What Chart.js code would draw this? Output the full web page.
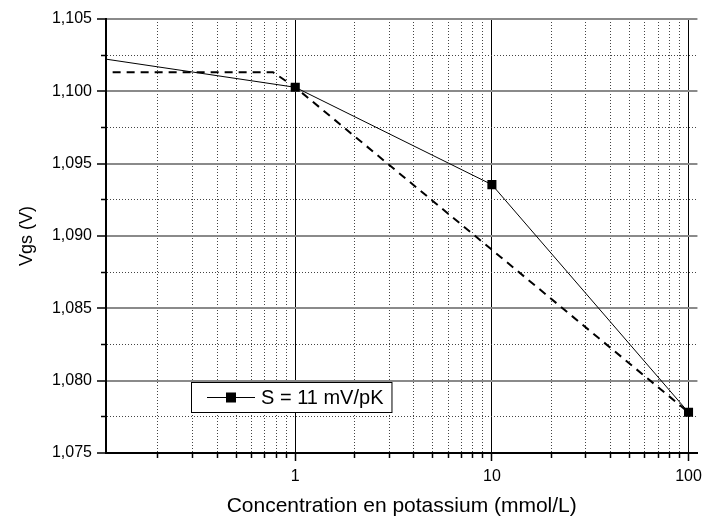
<!DOCTYPE html>
<html><head><meta charset="utf-8">
<script src="https://cdn.jsdelivr.net/npm/chart.js@4/dist/chart.umd.min.js"></script>
<style>html,body{margin:0;padding:0;background:#fff}</style>
</head><body>
<canvas id="c" width="708" height="520"></canvas>
<script>
// ---- data ----
const concentrations = [0.1, 1, 10, 100];            // mmol/L
const vgsMeasured    = [1.1023, 1.10028, 1.09355, 1.07781]; // V
const fitConcentrations = [0.1, 0.77, 1, 100];
const vgsFit            = [1.10132, 1.10132, 1.10028, 1.07781];
const seriesLabel = 'S = 11 mV/pK';
const xTitle = 'Concentration en potassium (mmol/L)';
const yTitle = 'Vgs (V)';
const xRange = [0.109, 111];
const yRange = [1.075, 1.105];
const xTickValues = [0.2,0.3,0.4,0.5,0.6,0.7,0.8,0.9,1,2,3,4,5,6,7,8,9,10,20,30,40,50,60,70,80,90,100];
const xMajorTicks = [1, 10, 100];
const xTickLabels = ['1', '10', '100'];
const yTickValues = [1.075,1.0775,1.080,1.0825,1.085,1.0875,1.090,1.0925,1.095,1.0975,1.100,1.1025,1.105];
const yMajorTicks = [1.075,1.080,1.085,1.090,1.095,1.100,1.105];
const yTickLabels = ['1,075','1,080','1,085','1,090','1,095','1,100','1,105'];

const FONT = "'Liberation Sans', Arial, sans-serif";
const near = (a, b) => Math.abs(a - b) < 1e-7 * Math.max(1, Math.abs(b));
const majorIdx = (arr, v) => arr.findIndex(m => near(m, v));
const isMajorX = v => majorIdx(xMajorTicks, v) >= 0;
const isMajorY = v => majorIdx(yMajorTicks, v) >= 0;

const boxLegend = {
  id: 'boxLegend',
  afterDatasetsDraw(chart) {
    const ctx = chart.ctx, ca = chart.chartArea;
    const ds = chart.data.datasets[0];
    const bx = ca.left + 85, by = ca.top + 363, bh = 30;
    ctx.save();
    ctx.font = '20px ' + FONT;
    const tw = ctx.measureText(ds.label).width;
    const bw = 70 + tw + 8;
    ctx.fillStyle = '#fff';
    ctx.fillRect(bx, by, bw, bh);
    ctx.strokeStyle = '#000';
    ctx.lineWidth = 1;
    ctx.strokeRect(Math.round(bx) + 0.5, Math.round(by) + 0.5, bw, bh);
    const cy = by + bh / 2;
    ctx.beginPath();
    ctx.moveTo(bx + 16, Math.round(cy) + 0.5);
    ctx.lineTo(bx + 64, Math.round(cy) + 0.5);
    ctx.stroke();
    ctx.fillStyle = '#000';
    ctx.fillRect(bx + 40 - 5, cy - 4.5, 10, 10);
    ctx.textBaseline = 'middle';
    ctx.textAlign = 'left';
    ctx.fillText(ds.label, bx + 70, cy + 1);
    ctx.restore();
  }
};

new Chart(document.getElementById('c'), {
  type: 'line',
  data: {
    datasets: [
      {
        label: seriesLabel,
        data: concentrations.map((x, i) => ({x, y: vgsMeasured[i]})),
        borderColor: '#000', backgroundColor: '#000', borderWidth: 1,
        pointStyle: 'rect', pointRadius: 6.4, pointHoverRadius: 6.4,
        pointBorderWidth: 0, tension: 0
      },
      {
        label: 'fit',
        data: fitConcentrations.map((x, i) => ({x, y: vgsFit[i]})),
        borderColor: '#000', borderWidth: 2, borderDash: [8, 6],
        pointRadius: 0, tension: 0, fill: false
      }
    ]
  },
  options: {
    responsive: false, animation: false, devicePixelRatio: 1,
    layout: { padding: { top: 19, right: 8, left: 0, bottom: 0 } },
    plugins: { legend: { display: false }, tooltip: { enabled: false } },
    scales: {
      x: {
        type: 'logarithmic', min: xRange[0], max: xRange[1],
        afterBuildTicks: s => { s.ticks = xTickValues.map(v => ({ value: v })); },
        afterFit: s => { s.height = 67; },
        ticks: {
          autoSkip: false, maxRotation: 0, padding: 6, color: '#000',
          font: { family: FONT, size: 16 },
          callback: v => { const i = majorIdx(xMajorTicks, v); return i >= 0 ? xTickLabels[i] : ''; }
        },
        grid: {
          color: c => (c.tick && isMajorX(c.tick.value)) ? '#000' : '#444',
          lineWidth: 1,
          tickLength: 8, tickColor: '#000', tickWidth: 1.5,
          tickBorderDash: c => (c.tick && isMajorX(c.tick.value)) ? [] : [4, 20]
        },
        border: {
          color: '#000', width: 2,
          dash: c => (c.tick && !isMajorX(c.tick.value)) ? [1, 2] : []
        },
        title: { display: true, text: xTitle, color: '#000', font: { family: FONT, size: 21 }, padding: { top: 0, bottom: 1 } }
      },
      y: {
        type: 'linear', min: yRange[0], max: yRange[1],
        afterBuildTicks: s => { s.ticks = yTickValues.map(v => ({ value: v })); },
        afterFit: s => { s.width = 106; },
        ticks: {
          autoSkip: false, padding: 5, color: '#000',
          font: { family: FONT, size: 16 },
          callback: v => { const i = majorIdx(yMajorTicks, v); return i >= 0 ? yTickLabels[i] : ''; }
        },
        grid: {
          color: c => (c.tick && isMajorY(c.tick.value)) ? '#8a8a8a' : '#444',
          lineWidth: c => (c.tick && isMajorY(c.tick.value)) ? 2 : 1,
          tickLength: 9, tickColor: '#000', tickWidth: 1.5,
          tickBorderDash: c => (c.tick && isMajorY(c.tick.value)) ? [] : [4, 20],
          tickBorderDashOffset: c => (c.tick && isMajorY(c.tick.value)) ? 0 : 20
        },
        border: {
          color: '#000', width: 2,
          dash: c => (c.tick && !isMajorY(c.tick.value)) ? [1, 2] : []
        },
        title: { display: true, text: yTitle, color: '#000', font: { family: FONT, size: 18 }, padding: { top: 16, bottom: 0 } }
      }
    }
  },
  plugins: [boxLegend]
});
</script>
</body></html>
